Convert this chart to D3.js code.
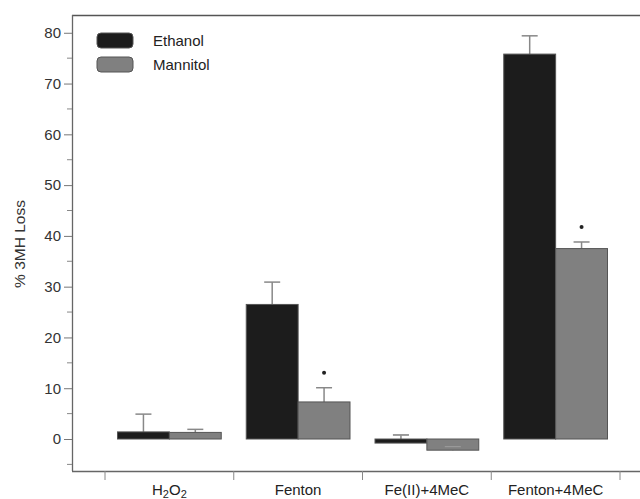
<!DOCTYPE html>
<html>
<head>
<meta charset="utf-8">
<script src="https://cdn.jsdelivr.net/npm/d3@7"></script>
<style>
  body { margin: 0; background: #fff; }
  text { font-family: "Liberation Sans", Arial, sans-serif; }
</style>
</head>
<body>
<div id="chart-area"></div>
<script>
// DATA
var categories = ["H2O2", "Fenton", "Fe(II)+4MeC", "Fenton+4MeC"];
var series = ["Ethanol", "Mannitol"];
var ethanol = [1.4, 26.5, -0.8, 75.8];
var ethanolErr = [3.5, 4.4, 1.6, 3.6];
var mannitol = [1.3, 7.3, -2.2, 37.5];
var mannitolErr = [0.6, 2.8, 0.7, 1.3];
var mannitolSig = [false, true, false, true];
var yTicks = [0, 10, 20, 30, 40, 50, 60, 70, 80];
var yMinor = [-5, 5, 15, 25, 35, 45, 55, 65, 75];

var width = 640, height = 499;
var plotLeft = 72, plotTop = 15, plotBottom = 471;   // NOTE: "top" is taken by window.top

var svg = d3.select("#chart-area")
    .append("svg")
        .attr("width", width)
        .attr("height", height);

// SCALES
var x = d3.scaleBand()
    .domain(categories)
    .range([105, 620])
    .padding(0);

var xInner = d3.scaleBand()
    .domain(series)
    .range([12.5, x.bandwidth() - 12.5]);

var y = d3.scaleLinear()
    .domain([-6.3, 83.5])
    .range([plotBottom, plotTop]);

var color = { "Ethanol": "#1c1c1c", "Mannitol": "#808080" };

// FRAME
svg.append("line")
    .attr("x1", plotLeft).attr("x2", width)
    .attr("y1", plotTop + 0.5).attr("y2", plotTop + 0.5)
    .attr("stroke", "#555").attr("stroke-width", 1.3);

// Y AXIS
var yAxis = svg.append("g")
    .attr("transform", "translate(" + plotLeft + ",0)")
    .call(d3.axisLeft(y).tickValues(yTicks).tickSize(8).tickPadding(3).tickSizeOuter(0));
yAxis.select(".domain").attr("stroke", "#666").attr("stroke-width", 1.3)
    .attr("d", "M0.5," + plotTop + "V" + plotBottom);
yAxis.selectAll(".tick line").attr("stroke", "#777");
yAxis.selectAll(".tick text").attr("font-size", "15px").attr("fill", "#333")
    .attr("font-family", "Liberation Sans, Arial, sans-serif");

svg.append("g")
    .attr("transform", "translate(" + plotLeft + ",0)")
    .selectAll("line")
    .data(yMinor)
    .enter().append("line")
        .attr("x1", -5).attr("x2", 0)
        .attr("y1", function(d) { return y(d); })
        .attr("y2", function(d) { return y(d); })
        .attr("stroke", "#888");

svg.append("text")
    .attr("transform", "translate(25,244) rotate(-90)")
    .attr("text-anchor", "middle")
    .attr("font-size", "15.5px")
    .attr("fill", "#333")
    .text("% 3MH Loss");

// X AXIS
svg.append("line")
    .attr("x1", plotLeft).attr("x2", width)
    .attr("y1", plotBottom + 0.5).attr("y2", plotBottom + 0.5)
    .attr("stroke", "#666").attr("stroke-width", 1.3);

var bounds = categories.map(function(c) { return x(c); });
bounds.push(x(categories[categories.length - 1]) + x.bandwidth());
svg.selectAll(".xtick")
    .data(bounds)
    .enter().append("line")
        .attr("class", "xtick")
        .attr("x1", function(d) { return d; })
        .attr("x2", function(d) { return d; })
        .attr("y1", plotBottom)
        .attr("y2", plotBottom + 9)
        .attr("stroke", "#888");

var xLabels = svg.selectAll(".xlabel")
    .data(categories)
    .enter().append("text")
        .attr("class", "xlabel")
        .attr("x", function(d) { return x(d) + x.bandwidth() / 2; })
        .attr("y", 495)
        .attr("text-anchor", "middle")
        .attr("font-size", "15px")
        .attr("fill", "#222");

xLabels.each(function(d) {
    var t = d3.select(this);
    if (d === "H2O2") {
        t.append("tspan").text("H");
        t.append("tspan").attr("font-size", "11px").attr("dy", 3).text("2");
        t.append("tspan").attr("dy", -3).text("O");
        t.append("tspan").attr("font-size", "11px").attr("dy", 3).text("2");
    } else {
        t.text(d);
    }
});

// BARS
var rows = categories.map(function(c, i) {
    return [
        { cat: c, s: "Ethanol", v: ethanol[i], e: ethanolErr[i], sig: false },
        { cat: c, s: "Mannitol", v: mannitol[i], e: mannitolErr[i], sig: mannitolSig[i] }
    ];
});
var flat = [].concat.apply([], rows);

var groups = svg.selectAll(".bar")
    .data(flat)
    .enter().append("g")
        .attr("class", "bar")
        .attr("transform", function(d) { return "translate(" + (x(d.cat) + xInner(d.s)) + ",0)"; });

// error bars first (behind the bars)
groups.append("line")
    .attr("x1", xInner.bandwidth() / 2).attr("x2", xInner.bandwidth() / 2)
    .attr("y1", function(d) { return y(d.v); })
    .attr("y2", function(d) { return y(d.v + d.e); })
    .attr("stroke", "#888").attr("stroke-width", 1.5);
groups.append("line")
    .attr("x1", xInner.bandwidth() / 2 - 8).attr("x2", xInner.bandwidth() / 2 + 8)
    .attr("y1", function(d) { return y(d.v + d.e); })
    .attr("y2", function(d) { return y(d.v + d.e); })
    .attr("stroke", "#888").attr("stroke-width", 1.5);

groups.append("rect")
    .attr("x", 0)
    .attr("width", xInner.bandwidth())
    .attr("y", function(d) { return y(Math.max(0, d.v)); })
    .attr("height", function(d) { return Math.abs(y(d.v) - y(0)); })
    .attr("fill", function(d) { return color[d.s]; })
    .attr("stroke", "#555")
    .attr("stroke-width", 1);

// error bars that sit inside negative bars are visible on top
groups.filter(function(d) { return d.v < 0; })
    .append("line")
        .attr("x1", xInner.bandwidth() / 2 - 8).attr("x2", xInner.bandwidth() / 2 + 8)
        .attr("y1", function(d) { return y(d.v + d.e); })
        .attr("y2", function(d) { return y(d.v + d.e); })
        .attr("stroke", "#999").attr("stroke-width", 1.2);

groups.filter(function(d) { return d.sig; })
    .append("circle")
        .attr("cx", xInner.bandwidth() / 2)
        .attr("cy", function(d) { return y(d.v + d.e) - 15; })
        .attr("r", 2)
        .attr("fill", "#222");

// LEGEND
var legend = svg.append("g")
    .attr("transform", "translate(97,33)");

series.forEach(function(s, i) {
    var row = legend.append("g")
        .attr("transform", "translate(0," + (i * 24) + ")");
    row.append("rect")
        .attr("width", 36)
        .attr("height", 15)
        .attr("rx", 4)
        .attr("fill", color[s])
        .attr("stroke", "#555");
    row.append("text")
        .attr("x", 56)
        .attr("y", 13)
        .attr("font-size", "15px")
        .attr("fill", "#222")
        .text(s);
});
</script>
</body>
</html>
